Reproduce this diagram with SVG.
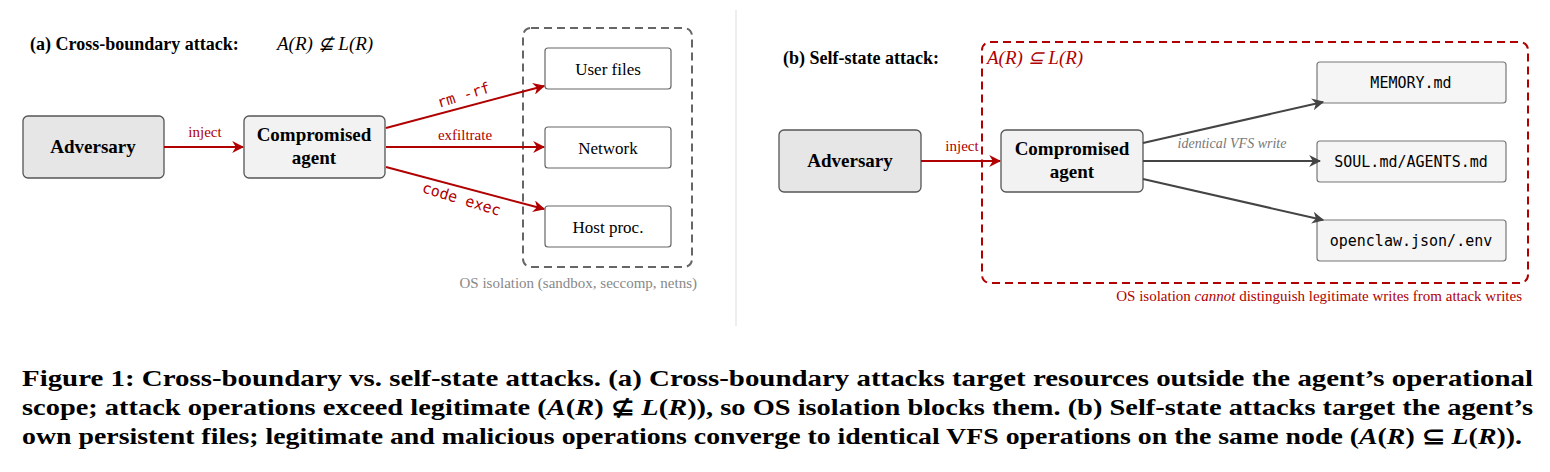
<svg xmlns="http://www.w3.org/2000/svg" width="1550" height="472" viewBox="0 0 1550 472">
<style>
.node{fill:#e6e6e6;stroke:#555;stroke-width:1.3}
.node2{fill:#f2f2f2;stroke:#555;stroke-width:1.3}
.res{fill:#fff;stroke:#666;stroke-width:1.2}
.res2{fill:#f5f5f5;stroke:#777;stroke-width:1.2}
.bold{font-weight:bold;font-size:19px;text-anchor:middle}
.lbl{font-size:17px;text-anchor:middle}
.el{font-size:15px;text-anchor:middle}
.mono{font-size:15px;text-anchor:middle}
.red{fill:#b00000}
.ra{stroke:#b00000;stroke-width:2;fill:none}
.ga{stroke:#444;stroke-width:2;fill:none}
.cap{font-weight:bold;font-size:23px}
</style>
<defs>
<marker id="mr" viewBox="0 0 10 10" refX="9" refY="5" markerWidth="6" markerHeight="6" orient="auto"><path d="M0,0 L10,5 L0,10 L3,5z" fill="#b00000"/></marker>
<marker id="mg" viewBox="0 0 10 10" refX="9" refY="5" markerWidth="6" markerHeight="6" orient="auto"><path d="M0,0 L10,5 L0,10 L3,5z" fill="#444"/></marker>
</defs>
<line x1="736" y1="10" x2="736" y2="326" stroke="#ddd" stroke-width="1"/>
<g font-family="'Liberation Serif', serif">
<text x="30" y="50" font-size="18" font-weight="bold">(a) Cross-boundary attack:</text>
<text x="277" y="50" font-size="19" font-style="italic">A(R) ⊈ L(R)</text>
<rect x="523" y="28" width="169" height="239" rx="8" fill="none" stroke="#666" stroke-width="2" stroke-dasharray="8,5"/>
<text x="697" y="288" font-size="15" fill="#888" text-anchor="end">OS isolation (sandbox, seccomp, netns)</text>
<g id="a-adversary"><rect class="node" x="23" y="116" width="141" height="62" rx="5"/><text class="bold" x="93" y="153">Adversary</text></g>
<g id="a-agent"><rect class="node2" x="244" y="116" width="141" height="62" rx="5"/><text class="bold" x="314" y="141">Compromised</text><text class="bold" x="314" y="164">agent</text></g>
<g id="a-user"><rect class="res" x="545" y="48" width="126" height="41" rx="3"/><text class="lbl" x="608" y="75">User files</text></g>
<g id="a-net"><rect class="res" x="545" y="127" width="126" height="41" rx="3"/><text class="lbl" x="608" y="154">Network</text></g>
<g id="a-host"><rect class="res" x="545" y="206" width="126" height="41" rx="3"/><text class="lbl" x="608" y="233">Host proc.</text></g>
<g id="a-edges">
<line class="ra" x1="164" y1="147" x2="243" y2="147" marker-end="url(#mr)"/>
<text class="el red" x="205" y="137">inject</text>
<line class="ra" x1="386" y1="128" x2="544" y2="86" marker-end="url(#mr)"/>
<text class="mono red" font-family="'DejaVu Sans Mono', monospace" font-size="14" transform="translate(465,100) rotate(-17)">rm -rf</text>
<line class="ra" x1="386" y1="147" x2="544" y2="147" marker-end="url(#mr)"/>
<text class="el red" x="465" y="140">exfiltrate</text>
<line class="ra" x1="386" y1="167" x2="544" y2="209" marker-end="url(#mr)"/>
<text class="mono red" font-family="'DejaVu Sans Mono', monospace" font-size="14" transform="translate(460,204) rotate(17)">code exec</text>
</g>
<text x="783" y="64" font-size="18" font-weight="bold">(b) Self-state attack:</text>
<rect x="982" y="42" width="546" height="241" rx="8" fill="none" stroke="#b00000" stroke-width="2" stroke-dasharray="8,5"/>
<text class="red" x="987" y="64" font-size="19" font-style="italic">A(R) ⊆ L(R)</text>
<text class="red" x="1522" y="301" font-size="15" text-anchor="end">OS isolation <tspan font-style="italic">cannot</tspan> distinguish legitimate writes from attack writes</text>
<g id="b-adversary"><rect class="node" x="779" y="130" width="142" height="62" rx="5"/><text class="bold" x="850" y="167">Adversary</text></g>
<g id="b-agent"><rect class="node2" x="1001" y="130" width="142" height="62" rx="5"/><text class="bold" x="1072" y="155">Compromised</text><text class="bold" x="1072" y="178">agent</text></g>
<g id="b-memory"><rect class="res2" x="1317" y="62" width="189" height="41" rx="3"/><text class="mono" font-family="'DejaVu Sans Mono', monospace" x="1411" y="88">MEMORY.md</text></g>
<g id="b-soul"><rect class="res2" x="1317" y="141" width="189" height="41" rx="3"/><text class="mono" font-family="'DejaVu Sans Mono', monospace" x="1411" y="167">SOUL.md/AGENTS.md</text></g>
<g id="b-openclaw"><rect class="res2" x="1317" y="220" width="189" height="41" rx="3"/><text class="mono" font-family="'DejaVu Sans Mono', monospace" x="1411" y="246">openclaw.json/.env</text></g>
<g id="b-edges">
<line class="ra" x1="921" y1="161" x2="1000" y2="161" marker-end="url(#mr)"/>
<text class="el red" x="962" y="151">inject</text>
<line class="ga" x1="1143" y1="143" x2="1323" y2="102" marker-end="url(#mg)"/>
<line class="ga" x1="1143" y1="161" x2="1320" y2="161" marker-end="url(#mg)"/>
<line class="ga" x1="1143" y1="179" x2="1323" y2="220" marker-end="url(#mg)"/>
<text x="1232" y="148" font-size="14" font-style="italic" fill="#777" text-anchor="middle">identical VFS write</text>
</g>
<text class="cap" x="22" y="386" textLength="1511" lengthAdjust="spacingAndGlyphs">Figure 1: Cross-boundary vs. self-state attacks. (a) Cross-boundary attacks target resources outside the agent’s operational</text>
<text class="cap" x="22" y="415" textLength="1511" lengthAdjust="spacingAndGlyphs">scope; attack operations exceed legitimate (<tspan font-style="italic">A</tspan>(<tspan font-style="italic">R</tspan>) ⊈ <tspan font-style="italic">L</tspan>(<tspan font-style="italic">R</tspan>)), so OS isolation blocks them. (b) Self-state attacks target the agent’s</text>
<text class="cap" x="22" y="444" textLength="1500" lengthAdjust="spacingAndGlyphs">own persistent files; legitimate and malicious operations converge to identical VFS operations on the same node (<tspan font-style="italic">A</tspan>(<tspan font-style="italic">R</tspan>) ⊆ <tspan font-style="italic">L</tspan>(<tspan font-style="italic">R</tspan>)).</text>
</g>
</svg>
